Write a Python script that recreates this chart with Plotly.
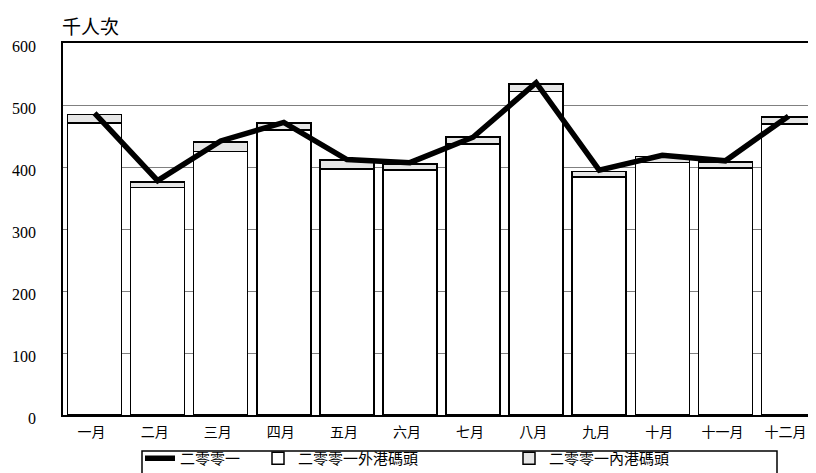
import plotly.graph_objects as go

months = ["一月", "二月", "三月", "四月", "五月", "六月", "七月", "八月", "九月", "十月", "十一月", "十二月"]
outer_2001 = [471, 367, 425, 460, 397, 395, 437, 522, 384, 407, 398, 469]
inner_2001 = [14, 9, 15, 11, 14, 10, 11, 12, 9, 10, 10, 12]
line_2001 = [487, 378, 442, 472, 412, 407, 448, 536, 395, 419, 410, 482]
y_ticks = [0, 100, 200, 300, 400, 500, 600]

CJK = "Noto Sans CJK TC"

fig = go.Figure()
fig.add_trace(go.Bar(
    x=months, y=outer_2001, name="二零零一外港碼頭",
    marker=dict(color="white", line=dict(color="black", width=1.5)),
    legend="legend2",
))
fig.add_trace(go.Bar(
    x=months, y=inner_2001, name="二零零一內港碼頭",
    marker=dict(color="#e6e6e6", line=dict(color="black", width=1.5)),
    legend="legend3",
))
fig.add_trace(go.Scatter(
    x=months, y=line_2001, name="二零零一", mode="lines",
    line=dict(color="black", width=5.5),
    legend="legend",
))

# page body has an 8px margin; work in screen pixels and convert
OFF = 8
W, H = 816, 473 - OFF
PL, PR, PT, PB = 63, 820, 43, 415  # plot area in screen pixels (right side runs past the window)
L = PL - OFF
T = PT - OFF
R = W - (PR - OFF)
B = H - (PB - OFF)
pw = PR - PL
ph = PB - PT

def px_x(p):
    return (p - PL) / pw

def px_y(p):
    return (PB - p) / ph

leg_common = dict(orientation="h", yanchor="top", xanchor="left",
                  font=dict(family=CJK, size=15, color="black"),
                  bgcolor="rgba(0,0,0,0)", borderwidth=0)

LEG_TOP = 442

fig.update_layout(
    width=W, height=H,
    margin=dict(l=L, r=R, t=T, b=B, autoexpand=False),
    paper_bgcolor="white", plot_bgcolor="white",
    barmode="stack", bargap=0.145,
    showlegend=True,
    legend=dict(x=px_x(140), y=px_y(LEG_TOP), **leg_common),
    legend2=dict(x=px_x(258), y=px_y(LEG_TOP), **leg_common),
    legend3=dict(x=px_x(509), y=px_y(LEG_TOP), **leg_common),
    xaxis=dict(
        showline=True, linecolor="black", linewidth=1.5, mirror=True,
        tickfont=dict(family=CJK, size=14, color="black"),
        ticks="", showgrid=False, ticklabelstandoff=3, ticklabelshift=-3,
    ),
    yaxis=dict(
        range=[0, 600], tickvals=y_ticks,
        showline=True, linecolor="black", linewidth=1.5, mirror=True,
        showgrid=True, gridcolor="#808080", gridwidth=1,
        tickfont=dict(family="Liberation Serif", size=16, color="black"),
        ticks="", ticklabelstandoff=22, ticklabelshift=3, zeroline=False,
    ),
    shapes=[dict(type="rect", xref="paper", yref="paper",
                 x0=px_x(142), x1=px_x(777), y0=px_y(451), y1=px_y(485),
                 line=dict(color="black", width=1.5), fillcolor="white",
                 layer="above")],
    annotations=[dict(text="千人次", xref="paper", yref="paper",
                      x=px_x(60), y=px_y(25), xanchor="left", yanchor="middle",
                      showarrow=False,
                      font=dict(family=CJK, size=19, color="black"))],
)

fig.write_html("out.html")
